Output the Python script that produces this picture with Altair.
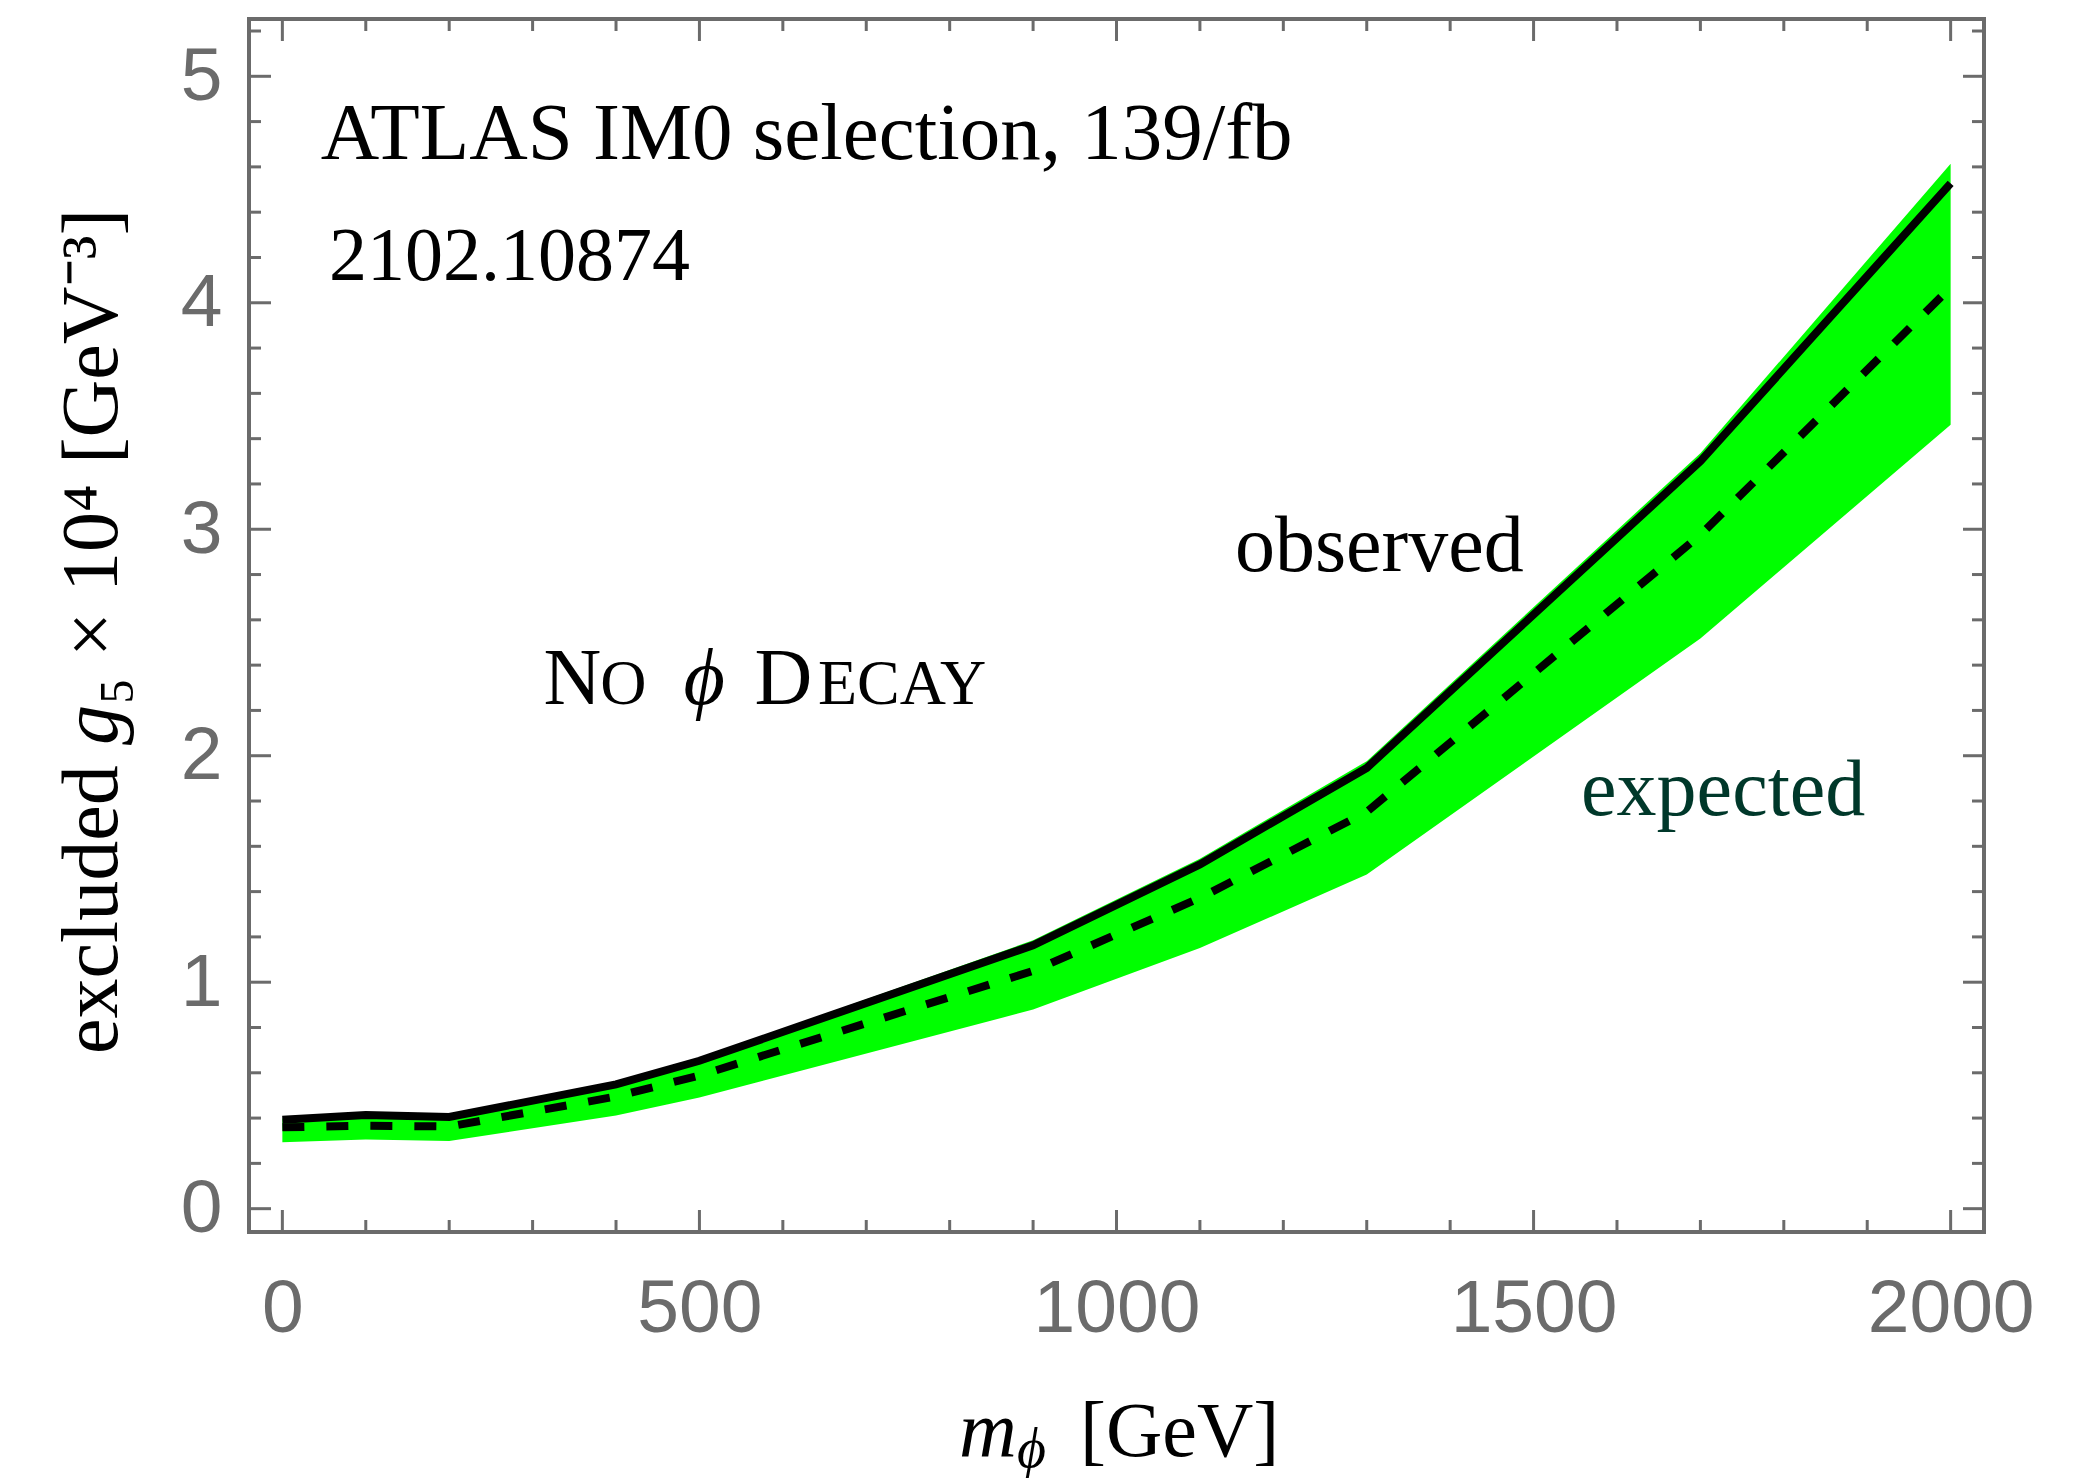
import altair as alt
import pandas as pd

# ---- data ----
mass = [0, 100, 200, 400, 500, 900, 1100, 1300, 1700, 2000]
observed = [0.393, 0.414, 0.405, 0.549, 0.653, 1.163, 1.520, 1.946, 3.300, 4.527]
expected = [0.359, 0.366, 0.363, 0.495, 0.588, 1.050, 1.372, 1.752, 2.975, 4.068]
band_lo = [0.293, 0.305, 0.299, 0.411, 0.491, 0.879, 1.151, 1.475, 2.518, 3.461]
band_hi = [0.398, 0.419, 0.410, 0.556, 0.664, 1.185, 1.545, 1.976, 3.336, 4.614]

x_major = [0, 500, 1000, 1500, 2000]
x_minor = [100, 200, 300, 400, 600, 700, 800, 900, 1100, 1200, 1300, 1400,
           1600, 1700, 1800, 1900]
y_major = [0, 1, 2, 3, 4, 5]
y_minor = [0.2, 0.4, 0.6, 0.8, 1.2, 1.4, 1.6, 1.8, 2.2, 2.4, 2.6, 2.8,
           3.2, 3.4, 3.6, 3.8, 4.2, 4.4, 4.6, 4.8, 5.2]

# annotations inside the plot (data coordinates)
ann_text = ["ATLAS IM0 selection, 139/fb", "2102.10874", "observed", "expected"]
ann_x = [46, 56, 1142, 1557]
ann_y = [4.634, 4.102, 2.814, 1.739]
ann_size = [81, 76, 80, 80]
ann_color = ["#000000", "#000000", "#000000", "#00382a"]

sc_text = ["N", "O", "D", "ECAY"]
sc_x = [313, 381, 566, 642]
sc_y = [2.23, 2.23, 2.23, 2.23]
sc_size = [80, 64, 80, 64]
phi_text = ["ϕ"]
phi_x = [481]
phi_y = [2.23]

# axis titles, set in pieces (pixel offsets from the plot's top-left corner)
xt_text = ["m", "ϕ", "[GeV]"]
xt_style = ["italic", "italic", "normal"]
xt_size = [80, 56, 78]
xt_px = [710, 768, 831]
xt_py = [1437, 1448, 1437]

yt_text = ["excluded", "g", "₅ × 10⁴ [GeV⁻³]"]
yt_style = ["normal", "italic", "normal"]
yt_px = [-132, -132, -132]
yt_py = [1035, 726, 686]

W, H = 1735, 1213
GRAY = "#6b6b6b"
SERIF = "Liberation Serif"
SANS = "Liberation Sans"

xs = alt.Scale(domain=[-40, 2040], nice=False, zero=False)
ys = alt.Scale(domain=[-0.103, 5.253], nice=False, zero=False)

df = pd.DataFrame({"m": mass, "obs": observed, "exp": expected,
                   "lo": band_lo, "hi": band_hi})

x_axis = alt.Axis(values=x_major, format="d", labelFont=SANS, labelFontSize=75,
                  labelColor=GRAY, labelPadding=40, labelFlush=False,
                  ticks=False, tickSize=0, domain=False, grid=False, title=None)
y_axis = alt.Axis(values=y_major, format="d", labelFont=SANS, labelFontSize=75,
                  labelColor=GRAY, labelPadding=27, labelFlush=False,
                  ticks=False, tickSize=0, domain=False, grid=False, title=None)

band = alt.Chart(df).mark_area(color="#00ff00", opacity=1).encode(
    x=alt.X("m:Q", scale=xs, axis=x_axis),
    y=alt.Y("lo:Q", scale=ys, axis=y_axis),
    y2="hi:Q",
)
obs_line = alt.Chart(df).mark_line(color="black", strokeWidth=8).encode(
    x=alt.X("m:Q", scale=xs),
    y=alt.Y("obs:Q", scale=ys),
)
exp_line = alt.Chart(df).mark_line(color="black", strokeWidth=8,
                                   strokeDash=[22, 22]).encode(
    x=alt.X("m:Q", scale=xs),
    y=alt.Y("exp:Q", scale=ys),
)


def xticks(vals, length, top):
    d = pd.DataFrame({"m": vals})
    if top:
        yv, y2v = alt.value(0), alt.value(length)
    else:
        yv, y2v = alt.value(H), alt.value(H - length)
    return alt.Chart(d).mark_rule(color=GRAY, strokeWidth=3).encode(
        x=alt.X("m:Q", scale=xs), y=yv, y2=y2v)


def yticks(vals, length, right):
    d = pd.DataFrame({"v": vals})
    if right:
        xv, x2v = alt.value(W), alt.value(W - length)
    else:
        xv, x2v = alt.value(0), alt.value(length)
    return alt.Chart(d).mark_rule(color=GRAY, strokeWidth=3).encode(
        y=alt.Y("v:Q", scale=ys), x=xv, x2=x2v)


ticks = [xticks(x_major, 22, False), xticks(x_minor, 12, False),
         xticks(x_major, 22, True), xticks(x_minor, 12, True),
         yticks(y_major, 22, False), yticks(y_minor, 12, False),
         yticks(y_major, 21, True), yticks(y_minor, 12, True)]

ann = alt.Chart(pd.DataFrame({"t": ann_text, "m": ann_x, "v": ann_y,
                              "s": ann_size, "c": ann_color})).mark_text(
    align="left", baseline="alphabetic", font=SERIF).encode(
    x=alt.X("m:Q", scale=xs), y=alt.Y("v:Q", scale=ys),
    text="t:N", size=alt.Size("s:Q", scale=None),
    color=alt.Color("c:N", scale=None))

sc = alt.Chart(pd.DataFrame({"t": sc_text, "m": sc_x, "v": sc_y,
                             "s": sc_size})).mark_text(
    align="left", baseline="alphabetic", font=SERIF, color="black").encode(
    x=alt.X("m:Q", scale=xs), y=alt.Y("v:Q", scale=ys),
    text="t:N", size=alt.Size("s:Q", scale=None))

phi = alt.Chart(pd.DataFrame({"t": phi_text, "m": phi_x, "v": phi_y})).mark_text(
    align="left", baseline="alphabetic", font=SERIF, fontSize=80,
    fontStyle="italic", color="black").encode(
    x=alt.X("m:Q", scale=xs), y=alt.Y("v:Q", scale=ys),
    text="t:N")

xt_df = pd.DataFrame({"t": xt_text, "st": xt_style, "s": xt_size,
                      "px": xt_px, "py": xt_py})
yt_df = pd.DataFrame({"t": yt_text, "st": yt_style, "px": yt_px, "py": yt_py})

title_layers = []
for style in ["normal", "italic"]:
    title_layers.append(
        alt.Chart(xt_df[xt_df["st"] == style]).mark_text(
            align="left", baseline="alphabetic", font=SERIF, fontStyle=style,
            color="black").encode(
            x=alt.X("px:Q", scale=None), y=alt.Y("py:Q", scale=None),
            text="t:N", size=alt.Size("s:Q", scale=None)))
    title_layers.append(
        alt.Chart(yt_df[yt_df["st"] == style]).mark_text(
            align="left", baseline="alphabetic", font=SERIF, fontStyle=style,
            fontSize=80, angle=270, color="black").encode(
            x=alt.X("px:Q", scale=None), y=alt.Y("py:Q", scale=None),
            text="t:N"))

chart = alt.layer(band, obs_line, exp_line, *ticks, ann, sc, phi,
                  *title_layers).properties(
    width=W, height=H, autosize="none",
    padding={"left": 241, "top": 11, "right": 95, "bottom": 246},
    background="white",
).configure_view(stroke=GRAY, strokeWidth=4)

chart.save("out.html", embed_options={"renderer": "svg", "actions": False})
